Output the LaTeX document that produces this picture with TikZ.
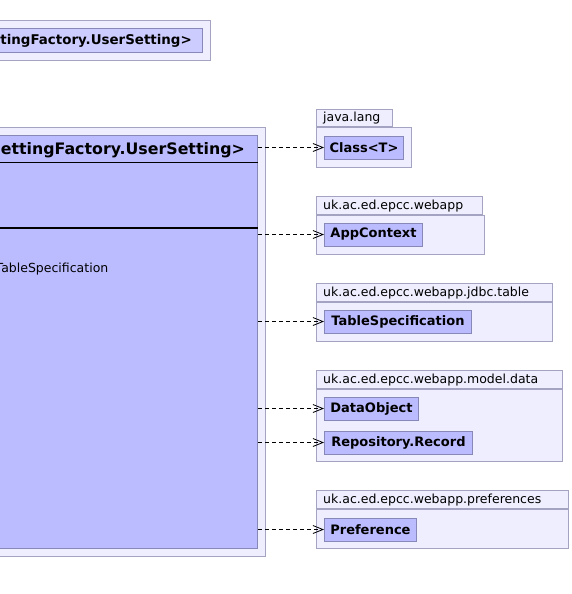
\documentclass[tikz,border=0pt]{standalone}
\usepackage{fontspec}
\setmainfont{DejaVu Sans}
\usetikzlibrary{arrows.meta}
\definecolor{pkgfill}{HTML}{EEEEFF}
\definecolor{pkgline}{HTML}{A4A4C2}
\definecolor{clsfill}{HTML}{BBBBFF}
\definecolor{clsline}{HTML}{8888B8}
\definecolor{topfill}{HTML}{CCCCFF}
\begin{document}
\begin{tikzpicture}[x=1pt,y=-1pt,
	pkg/.style={draw=pkgline, fill=pkgfill, line width=0.9pt, inner sep=0pt},
	pkgname/.style={anchor=west, inner sep=0pt, font=\fontsize{12.5}{14}\selectfont},
	cls/.style={draw=clsline, fill=clsfill, line width=0.9pt, inner sep=0pt, anchor=west, minimum height=23pt, font=\fontsize{13}{15}\selectfont\bfseries},
	dep/.style={line width=0.8pt, dash pattern=on 4pt off 3pt, -{Straight Barb[length=10pt,width=8pt]}}]
	\useasboundingbox (0,0) rectangle (571,594);
	\clip (0,0) rectangle (571,594);

	% class at top left
	\node[pkg, anchor=north east, minimum width=260, minimum height=40] (topout) at (211,20) {};
	\node[cls, fill=topfill, anchor=north east, minimum width=240, minimum height=24] (top) at (203,28) {};
	\node[anchor=east, inner sep=0pt, font=\fontsize{13.4}{15}\selectfont\bfseries] (toptitle) at (192,40.5) {SettingFactory.UserSetting>};

	% main class
	\node[pkg, anchor=north east, minimum width=576, minimum height=429] (mainout) at (266,127) {};
	\node[cls, anchor=north east, minimum width=560, minimum height=413] (main) at (258,135) {};
	\node[anchor=east, inner sep=0pt, font=\fontsize{15.8}{18}\selectfont\bfseries] (title) at (245,150) {SettingFactory.UserSetting>};
	\draw[line width=1pt] (-310,162) -- (258,162);
	\draw[line width=2pt] (-310,228) -- (258,228);
	\node[anchor=east, inner sep=0pt, font=\fontsize{12.5}{14}\selectfont] (field) at (108.5,269.5) {TableSpecification};

	% java.lang
	\node[pkg, anchor=north west, minimum width=95, minimum height=40] (lang) at (316,127) {};
	\node[pkg, anchor=south west, minimum width=76, minimum height=17] (langtab) at (316,127) {};
	\node[pkgname] at ([xshift=7pt]langtab.west) {java.lang};
	\node[cls, minimum width=79] (classT) at (324,147.5) {Class<T>};

	% uk.ac.ed.epcc.webapp
	\node[pkg, anchor=north west, minimum width=168, minimum height=39] (webapp) at (316,215) {};
	\node[pkg, anchor=south west, minimum width=166, minimum height=18] (webapptab) at (316,215) {};
	\node[pkgname] at ([xshift=7pt]webapptab.west) {uk.ac.ed.epcc.webapp};
	\node[cls, minimum width=98] (appctx) at (324,234.5) {AppContext};

	% uk.ac.ed.epcc.webapp.jdbc.table
	\node[pkg, anchor=north west, minimum width=236, minimum height=39] (jdbc) at (316,302) {};
	\node[pkg, anchor=south west, minimum width=236, minimum height=18] (jdbctab) at (316,302) {};
	\node[pkgname] at ([xshift=7pt]jdbctab.west) {uk.ac.ed.epcc.webapp.jdbc.table};
	\node[cls, minimum width=147] (tablespec) at (324,321.5) {TableSpecification};

	% uk.ac.ed.epcc.webapp.model.data
	\node[pkg, anchor=north west, minimum width=246, minimum height=72] (data) at (316,389) {};
	\node[pkg, anchor=south west, minimum width=246, minimum height=18] (datatab) at (316,389) {};
	\node[pkgname] at ([xshift=7pt]datatab.west) {uk.ac.ed.epcc.webapp.model.data};
	\node[cls, minimum width=94] (dataobj) at (324,408.5) {DataObject};
	\node[cls, minimum width=148] (record) at (324,442.5) {Repository.Record};

	% uk.ac.ed.epcc.webapp.preferences
	\node[pkg, anchor=north west, minimum width=252, minimum height=39] (prefs) at (316,509) {};
	\node[pkg, anchor=south west, minimum width=252, minimum height=18] (prefstab) at (316,509) {};
	\node[pkgname] at ([xshift=7pt]prefstab.west) {uk.ac.ed.epcc.webapp.preferences};
	\node[cls, minimum width=92] (pref) at (324,529.5) {Preference};

	% dependencies
	\draw[dep] (main.east |- classT.west) -- (classT.west);
	\draw[dep] (main.east |- appctx.west) -- (appctx.west);
	\draw[dep] (main.east |- tablespec.west) -- (tablespec.west);
	\draw[dep] (main.east |- dataobj.west) -- (dataobj.west);
	\draw[dep] (main.east |- record.west) -- (record.west);
	\draw[dep] (main.east |- pref.west) -- (pref.west);
\end{tikzpicture}
\end{document}
